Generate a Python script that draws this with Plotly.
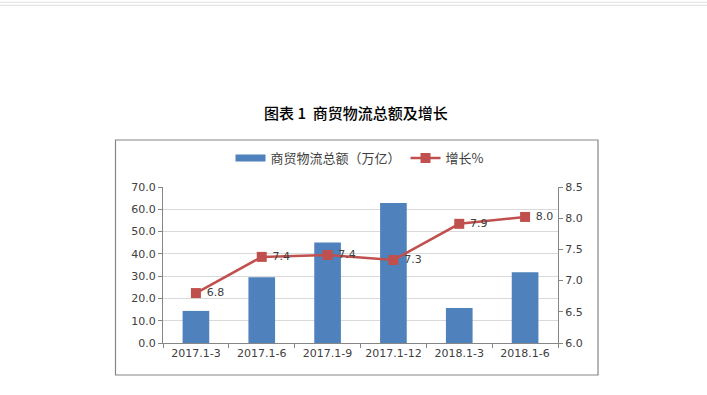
import plotly.graph_objects as go

categories = ["2017.1-3", "2017.1-6", "2017.1-9", "2017.1-12", "2018.1-3", "2018.1-6"]
total_values = [14.4, 29.5, 45.1, 62.8, 15.7, 31.7]
growth_values = [6.8, 7.38, 7.41, 7.33, 7.91, 8.02]
growth_labels = ["6.8", "7.4", "7.4", "7.3", "7.9", "8.0"]

W, H = 707, 395
def px(x):
    return x / W
def py(y):
    return 1 - y / H

fig = go.Figure()
fig.add_trace(go.Bar(
    x=categories, y=total_values, name="商贸物流总额（万亿）",
    marker=dict(color="#4F81BD", line=dict(width=0)),
    yaxis="y", showlegend=False,
))
# legend entry drawn as a wide blue bar like the original
fig.add_trace(go.Scatter(
    x=[categories[0]], y=[None], name="商贸物流总额（万亿）", mode="lines",
    line=dict(color="#4F81BD", width=7), yaxis="y", hoverinfo="skip",
))
fig.add_trace(go.Scatter(
    x=categories, y=growth_values, name="增长%",
    mode="lines+markers+text",
    text=["\u00a0" + t for t in growth_labels], textposition="middle right",
    textfont=dict(family="DejaVu Sans", size=11, color="#404040"),
    line=dict(color="#C0504D", width=2.5),
    marker=dict(symbol="square", size=10, color="#C0504D"),
    yaxis="y2",
))

axis_font = dict(family="DejaVu Sans", size=11, color="#404040")
fig.update_layout(
    template="none",
    width=W, height=H, autosize=False,
    margin=dict(l=0, r=0, t=0, b=0, pad=0, autoexpand=False),
    paper_bgcolor="white", plot_bgcolor="white",
    showlegend=True,
    legend=dict(orientation="h", x=px(360), xanchor="center", y=py(158), yanchor="middle",
                font=dict(family="Noto Sans CJK SC", size=13, color="#404040"),
                bgcolor="rgba(0,0,0,0)", itemwidth=30, tracegroupgap=0),
    bargap=0.595,
    xaxis=dict(domain=[px(163), px(558)], type="category", automargin=False,
               showline=True, linecolor="#868686", linewidth=1,
               ticks="outside", ticklen=4, tickcolor="#868686", tickson="boundaries",
               tickfont=axis_font, showgrid=False, zeroline=False),
    yaxis=dict(domain=[py(343), py(187)], range=[0, 70], dtick=10, tickformat=".1f",
               automargin=False,
               showline=True, linecolor="#868686", linewidth=1,
               ticks="outside", ticklen=4, tickcolor="#868686",
               showgrid=True, gridcolor="#D9D9D9", gridwidth=1,
               zeroline=False, tickfont=axis_font),
    yaxis2=dict(overlaying="y", side="right", range=[6.0, 8.5], dtick=0.5, tickformat=".1f",
                automargin=False,
                showline=True, linecolor="#868686", linewidth=1,
                ticks="outside", ticklen=4, tickcolor="#868686",
                showgrid=False, zeroline=False, tickfont=axis_font),
    annotations=[dict(
        text="图表 1\u00a0\u00a0商贸物流总额及增长", x=px(356), y=py(113),
        xref="paper", yref="paper", showarrow=False, xanchor="center", yanchor="middle",
        font=dict(family="Noto Sans CJK SC", size=15, color="#000000", weight=500),
    )],
    shapes=[
        dict(type="rect", xref="paper", yref="paper",
             x0=px(115.5), x1=px(598), y0=py(375), y1=py(140),
             line=dict(color="#868686", width=1.2), fillcolor="rgba(0,0,0,0)", layer="below"),
        dict(type="line", xref="paper", yref="paper", x0=0, x1=1, y0=py(2.3), y1=py(2.3),
             line=dict(color="#E0E0E0", width=1)),
        dict(type="line", xref="paper", yref="paper", x0=0, x1=1, y0=py(5.3), y1=py(5.3),
             line=dict(color="#E0E0E0", width=1)),
    ],
)

post = ("document.documentElement.style.margin='0';"
        "document.documentElement.style.overflow='hidden';"
        "document.body.style.margin='0';document.body.style.padding='0';"
        "document.body.style.overflow='hidden';")

fig.write_html("out.html", config={"displayModeBar": False}, post_script=post)
